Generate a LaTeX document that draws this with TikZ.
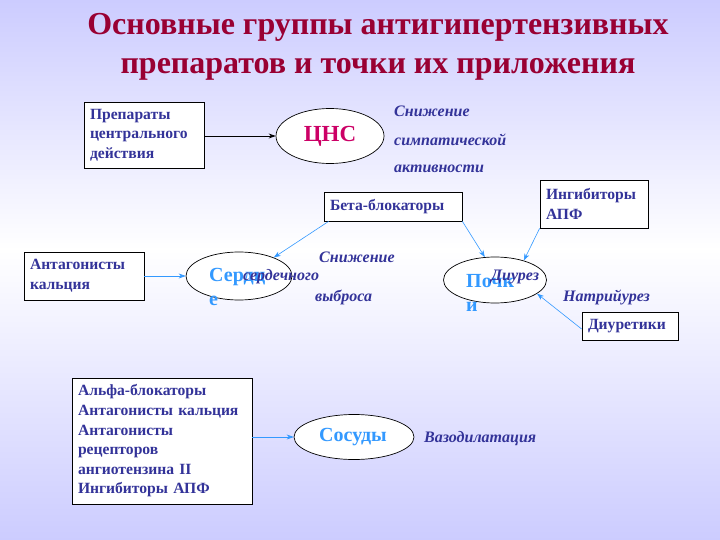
\documentclass[tikz,border=0pt]{standalone}
\usepackage{fontspec}
\setmainfont{Liberation Serif}
\usetikzlibrary{shapes.geometric,arrows.meta}
\definecolor{txtblue}{HTML}{333399}
\definecolor{ltblue}{HTML}{3399FF}
\definecolor{titlered}{HTML}{990033}
\definecolor{cnsred}{HTML}{CC0066}
\definecolor{bglav}{HTML}{CCCCFF}
\tikzset{
  drugbox/.style={draw=black, fill=white, line width=0.8pt, align=left, inner xsep=6pt,
    text=txtblue, font=\fontsize{15.6}{19.6}\selectfont\bfseries},
  organ/.style={ellipse, draw=black, fill=white, line width=0.7pt, inner sep=0pt},
  effect/.style={anchor=west, inner sep=0pt, text=txtblue, font=\fontsize{16}{18}\selectfont\bfseries\itshape},
  organtxt/.style={anchor=west, inner sep=0pt, text=ltblue, font=\fontsize{20}{24}\selectfont\bfseries},
  bluearrow/.style={draw=ltblue, line width=0.6pt, -{Stealth[length=7pt,width=5pt]}},
}
\begin{document}
\begin{tikzpicture}[x=1pt,y=-1pt]
\useasboundingbox (0,0) rectangle (720,540);
\shade[top color=bglav, bottom color=white] (0,0) rectangle (720,250);
\shade[top color=white, bottom color=bglav] (0,250) rectangle (720,540);
% title
\node[text=titlered, font=\fontsize{32}{39}\selectfont\bfseries, align=center] (title) at (378,47)
  {Основные группы антигипертензивных\\препаратов и точки их приложения};
% boxes
\node[drugbox, minimum width=120pt, minimum height=66pt, text width=108pt] (prep) at (144,135)
  {Препараты\\центрального\\действия};
\node[drugbox, minimum width=138pt, minimum height=29pt, text width=126pt] (beta) at (393,206.5)
  {Бета-блокаторы};
\node[drugbox, minimum width=108pt, minimum height=48pt, text width=96pt] (ing) at (594,204)
  {Ингибиторы\\АПФ};
\node[drugbox, minimum width=120pt, minimum height=48pt, text width=108pt] (ant) at (84,276)
  {Антагонисты\\кальция};
\node[drugbox, minimum width=96pt, minimum height=28pt, text width=84pt] (diur) at (630,326)
  {Диуретики};
\node[drugbox, minimum width=180pt, minimum height=126pt, text width=168pt] (big) at (162,441)
  {Альфа-блокаторы\\Антагонисты кальция\\Антагонисты\\рецепторов\\ангиотензина II\\Ингибиторы АПФ};
% organs
\node[organ, minimum width=108pt, minimum height=55pt] (cns) at (330,136) {};
\node[text=cnsred, font=\fontsize{23}{25}\selectfont\bfseries, inner sep=0pt] (cnst) at (330,136) {ЦНС};
\node[organ, minimum width=106pt, minimum height=48pt] (serd) at (239,276) {};
\node[organ, minimum width=103pt, minimum height=46pt] (poch) at (495,280) {};
\node[organ, minimum width=120pt, minimum height=45pt] (sos) at (354,437) {};
\node[text=ltblue, font=\fontsize{20}{22}\selectfont\bfseries, inner sep=0pt] (sost) at (353,437) {Сосуды};
\node[organtxt] (serdt1) at (209,277) {Сердц};
\node[organtxt] (serdt2) at (209,301) {е};
\node[organtxt] (pocht1) at (466,281) {Почк};
\node[organtxt] (pocht2) at (466,307) {и};
% effects
\node[effect] (e1) at (394,111) {Снижение};
\node[effect] (e2) at (394,140) {симпатической};
\node[effect] (e3) at (394,169) {активности};
\node[effect] (e4) at (319,257) {Снижение};
\node[effect] (e5) at (243,277) {сердечного};
\node[effect] (e6) at (315,297) {выброса};
\node[effect] (e7) at (491,277) {Диурез};
\node[effect] (e8) at (563,297) {Натрийурез};
\node[effect] (e9) at (424,439) {Вазодилатация};
% connectors
\draw[line width=0.8pt, -{Stealth[length=7pt,width=5pt]}] (prep.east |- cns) -- (cns.west);
\draw[bluearrow] ([xshift=5pt]beta.south west) -- (serd.28);
\draw[bluearrow] (beta.south east) -- (poch.114);
\draw[bluearrow] (ing.south west) -- (poch.34);
\draw[bluearrow] ([yshift=-3pt]diur.west) -- (poch.-18);
\draw[bluearrow] (ant.east) -- (serd.west);
\draw[bluearrow] (big.east |- sos) -- (sos.west);
\end{tikzpicture}
\end{document}
